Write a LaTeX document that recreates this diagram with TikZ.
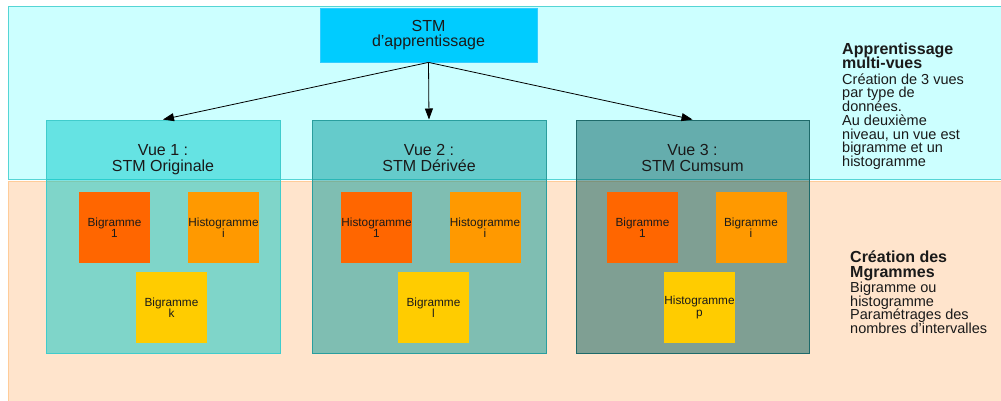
\documentclass[tikz,border=0pt]{standalone}
\usepackage{fontspec}
\setmainfont{Liberation Sans}
\usetikzlibrary{arrows.meta}
\definecolor{topband}{HTML}{CCFFFF}
\definecolor{topbandline}{HTML}{55D5D5}
\definecolor{botband}{HTML}{FFE4CC}
\definecolor{botbandline}{HTML}{FFCC99}
\definecolor{stmfill}{HTML}{00CCFF}
\definecolor{stmline}{HTML}{33CCFF}
\definecolor{vueA}{HTML}{00C8C8}
\definecolor{vueAline}{HTML}{40CCCC}
\definecolor{vueB}{HTML}{009999}
\definecolor{vueBline}{HTML}{2A9E9E}
\definecolor{vueC}{HTML}{005C5C}
\definecolor{vueCline}{HTML}{1E6A6A}
\definecolor{sqA}{HTML}{FF6600}
\definecolor{sqB}{HTML}{FF9900}
\definecolor{sqC}{HTML}{FFCC00}
\definecolor{txt}{HTML}{1A1A1A}
\newcommand\topstrutA{\rule{0pt}{12pt}}
\newcommand\topstrutB{\rule{0pt}{11pt}}
\setlength{\lineskiplimit}{-10pt}
\begin{document}
\begin{tikzpicture}[x=1pt,y=-1pt,
  band/.style={line width=1pt},
  vuebox/.style={minimum width=234pt,minimum height=233pt,inner sep=0pt,line width=1pt,fill opacity=0.5,draw opacity=1},
  vuelbl/.style={anchor=north,inner sep=0pt,align=center,text=txt,font=\fontsize{16}{15.3}\selectfont},
  sq/.style={minimum width=71pt,minimum height=71pt,inner sep=0pt,align=center,text=txt,
    font=\fontsize{11.8}{11.2}\selectfont},
  titletxt/.style={anchor=north west,inner sep=0pt,align=left,text=txt,
    font=\fontsize{16}{14.3}\selectfont\bfseries},
  bodytxt/.style={anchor=north west,inner sep=0pt,align=left,text=txt,
    font=\fontsize{14.5}{13.7}\selectfont},
  arr/.style={-{Triangle[length=11pt,width=8pt]},line width=0.8pt,black}]
\useasboundingbox (0,0) rectangle (1001,400);
\fill[white] (0,0) rectangle (1001,400);
% bands
\draw[band,draw=topbandline,fill=topband] (8,6) rectangle (1004,179);
\draw[band,draw=botbandline,fill=botband] (8,181.5) rectangle (1004,404);
% top node
\node[fill=stmfill,draw=stmline,line width=0.8pt,minimum width=217pt,minimum height=54pt,inner sep=0pt,
  align=center,text=txt,font=\fontsize{16}{15.6}\selectfont] (stm) at (428.5,35)
  {STM\\d’apprentissage};
% view boxes
\node[vuebox,fill=vueA,draw=vueAline] (v1) at (163,236.5) {};
\node[vuebox,fill=vueB,draw=vueBline] (v2) at (429,236.5) {};
\node[vuebox,fill=vueC,draw=vueCline,minimum width=233pt] (v3) at (692.5,236.5) {};
\node[vuelbl] (v1l) at (163,143.7) {\topstrutA Vue 1 :\\STM Originale};
\node[vuelbl] (v2l) at (429,143.7) {\topstrutA Vue 2 :\\STM Dérivée};
\node[vuelbl] (v3l) at (692.5,143.7) {\topstrutA Vue 3 :\\STM Cumsum};
% squares view 1
\node[sq,fill=sqA] (a1) at (114.5,227.5) {Bigramme\\1};
\node[sq,fill=sqB] (a2) at (223.5,227.5) {Histogramme\\i};
\node[sq,fill=sqC] (a3) at (171.5,307.5) {Bigramme\\k};
% squares view 2
\node[sq,fill=sqA] (b1) at (376.5,227.5) {Histogramme\\1};
\node[sq,fill=sqB] (b2) at (485,227.5) {Histogramme\\i};
\node[sq,fill=sqC] (b3) at (433.5,307.5) {Bigramme\\l};
% squares view 3
\node[sq,fill=sqA] (c1) at (642.5,227.5) {Bigramme\\1};
\node[sq,fill=sqB] (c2) at (751,227.5) {Bigramme\\i};
\node[sq,fill=sqC] (c3) at (699.5,307.5) {Histogramme\\p};
% arrows
\draw[arr] (stm.south) -- (v1.north);
\draw[arr] (stm.south) -- (v2.north);
\draw[arr] (stm.south) -- (v3.north);
% right texts
\node[titletxt] (t1) at (842,42) {\topstrutA Apprentissage\\multi-vues};
\node[bodytxt] (b1t) at (842,73) {\topstrutB Création de 3 vues\\par type de\\données.\\Au deuxième\\niveau, un vue est\\bigramme et un\\histogramme};
\node[titletxt] (t2) at (850,250.7) {\topstrutA Création des\\Mgrammes};
\node[bodytxt] (b2t) at (850,281.3) {\topstrutB Bigramme ou\\histogramme\\Paramétrages des\\nombres d’intervalles};
\end{tikzpicture}
\end{document}
